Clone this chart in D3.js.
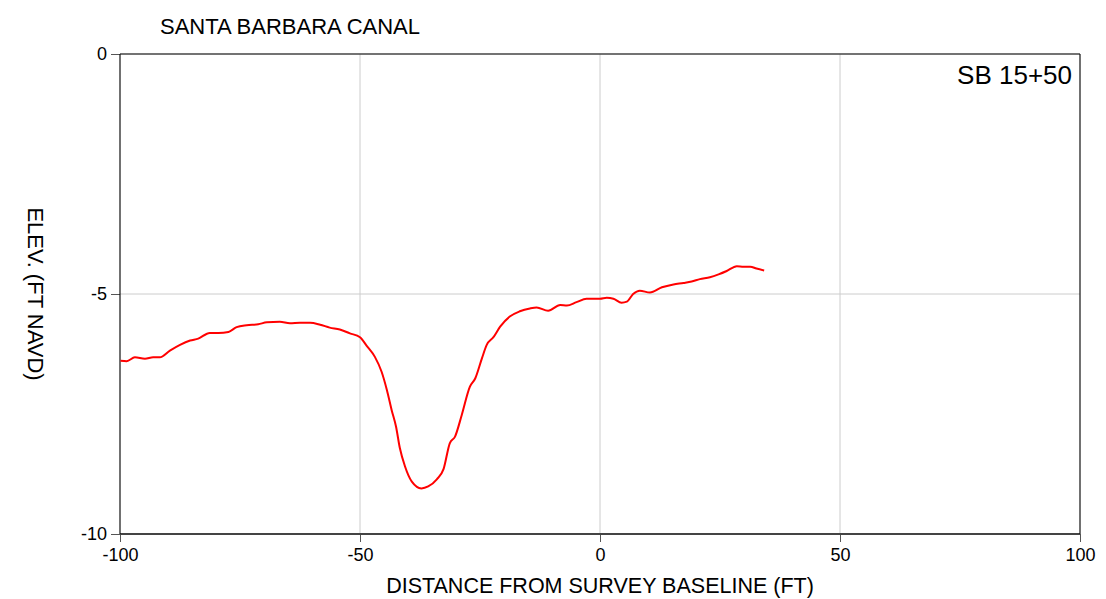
<!DOCTYPE html>
<html>
<head>
<meta charset="utf-8">
<script src="https://cdn.jsdelivr.net/npm/d3@7"></script>
<style>
  body { margin: 0; background: #fff; }
  svg { display: block; font-family: "Liberation Sans", Arial, sans-serif; }
</style>
</head>
<body>
<div id="chart"></div>
<script>
// profile data (distance ft, elevation ft NAVD)
const distance = [-99.9, -98.6, -96.9, -94.8, -93.1, -91.7, -89.6, -87.5, -85.4, -83.7,
  -81.3, -79.5, -77.4, -75.7, -73.6, -71.2, -69.4, -66.7, -64.6, -62.5, -60.4, -58.3,
  -56.3, -54.2, -52.1, -50.0, -48.6, -46.9, -45.5, -44.4, -43.4, -42.5, -41.7, -40.6,
  -39.2, -37.2, -35.8, -34.0, -32.6, -31.3, -30.2, -28.8, -27.1, -26.0, -24.6, -23.6,
  -22.2, -20.8, -18.8, -16.7, -14.6, -13.2, -10.8, -8.3, -6.9, -4.9, -2.8, 0.0, 1.4,
  2.8, 4.5, 5.6, 6.9, 8.3, 10.4, 12.9, 15.3, 17.4, 19.1, 20.8, 22.9, 24.7, 26.4, 28.5,
  29.9, 31.3, 32.6, 34.2]
const elevation = [-6.39, -6.40, -6.32, -6.35, -6.32, -6.32, -6.18, -6.06, -5.97, -5.93,
  -5.81, -5.81, -5.79, -5.69, -5.65, -5.63, -5.59, -5.58, -5.61, -5.60, -5.60, -5.64,
  -5.70, -5.74, -5.82, -5.90, -6.08, -6.31, -6.62, -7.00, -7.42, -7.76, -8.21, -8.60,
  -8.91, -9.05, -9.01, -8.86, -8.65, -8.11, -7.97, -7.52, -6.93, -6.76, -6.34, -6.06,
  -5.90, -5.68, -5.47, -5.36, -5.30, -5.28, -5.35, -5.23, -5.24, -5.17, -5.10, -5.10,
  -5.08, -5.10, -5.18, -5.16, -5.00, -4.93, -4.97, -4.86, -4.80, -4.77, -4.74, -4.69,
  -4.65, -4.59, -4.52, -4.42, -4.43, -4.43, -4.47, -4.51]

const xTicks = [-100, -50, 0, 50, 100]
const yTicks = [0, -5, -10]
const chartTitle = "SANTA BARBARA CANAL"
const stationLabel = "SB 15+50"
const xTitle = "DISTANCE FROM SURVEY BASELINE (FT)"
const yTitle = "ELEV. (FT NAVD)"

const data = distance.map((d, i) => ({x: d, y: elevation[i]}))

// dimensions
const totalWidth = 1106
const totalHeight = 599
const margin = {top: 54, right: 26, bottom: 65, left: 120}
const width = totalWidth - margin.left - margin.right
const height = totalHeight - margin.top - margin.bottom

const svg = d3.select("#chart")
  .append("svg")
  .attr("width", totalWidth)
  .attr("height", totalHeight)

const g = svg.append("g")
  .attr("transform", `translate(${margin.left}, ${margin.top})`)

// scales
const xScale = d3.scaleLinear().domain([-100, 100]).range([0, width])
const yScale = d3.scaleLinear().domain([-10, 0]).range([height, 0])

// grid
g.append("g")
  .selectAll("line")
  .data(xTicks.slice(1, -1))
  .join("line")
  .attr("x1", d => xScale(d)).attr("x2", d => xScale(d))
  .attr("y1", 0).attr("y2", height)
  .attr("stroke", "#cccccc")
  .attr("stroke-width", 1)

g.append("g")
  .selectAll("line")
  .data(yTicks.slice(1, -1))
  .join("line")
  .attr("x1", 0).attr("x2", width)
  .attr("y1", d => yScale(d)).attr("y2", d => yScale(d))
  .attr("stroke", "#cccccc")
  .attr("stroke-width", 1)

// axes (plain hyphen for negatives, like the original)
const xAxis = d3.axisBottom(xScale)
  .tickValues(xTicks)
  .tickFormat(d => String(d))
  .tickSize(8)
  .tickSizeOuter(0)
  .tickPadding(6)

const yAxis = d3.axisLeft(yScale)
  .tickValues(yTicks)
  .tickFormat(d => String(d))
  .tickSize(9)
  .tickSizeOuter(0)
  .tickPadding(4)

const gx = g.append("g")
  .attr("transform", `translate(0, ${height})`)
  .call(xAxis)

const gy = g.append("g").call(yAxis)

for (const ax of [gx, gy]) {
  ax.select(".domain").remove()
  ax.selectAll("line").attr("stroke", "#555")
  ax.selectAll("text")
    .attr("font-size", "18px")
    .attr("fill", "#000")
    .attr("font-family", "Liberation Sans, Arial, sans-serif")
}

// frame
g.append("line").attr("x1", 0).attr("x2", width).attr("y1", 0).attr("y2", 0)
  .attr("stroke", "#444").attr("stroke-width", 1.5)
g.append("line").attr("x1", 0).attr("x2", width).attr("y1", height).attr("y2", height)
  .attr("stroke", "#444").attr("stroke-width", 2)
g.append("line").attr("x1", 0).attr("x2", 0).attr("y1", 0).attr("y2", height)
  .attr("stroke", "#111").attr("stroke-width", 1.2)
g.append("line").attr("x1", width).attr("x2", width).attr("y1", 0).attr("y2", height)
  .attr("stroke", "#111").attr("stroke-width", 1.2)

// profile line
const lineGenerator = d3.line()
  .x(d => xScale(d.x))
  .y(d => yScale(d.y))
  .curve(d3.curveMonotoneX)

g.append("path")
  .datum(data)
  .attr("d", lineGenerator)
  .attr("fill", "none")
  .attr("stroke", "#ff0000")
  .attr("stroke-width", 2)

// texts
svg.append("text")
  .attr("x", 160)
  .attr("y", 34)
  .attr("font-size", "22px")
  .text(chartTitle)

g.append("text")
  .attr("x", width - 8)
  .attr("y", 30)
  .attr("text-anchor", "end")
  .attr("font-size", "26px")
  .text(stationLabel)

svg.append("text")
  .attr("x", margin.left + width / 2)
  .attr("y", 593)
  .attr("text-anchor", "middle")
  .attr("font-size", "21.5px")
  .text(xTitle)

svg.append("text")
  .attr("transform", `translate(28, ${margin.top + height / 2}) rotate(90)`)
  .attr("text-anchor", "middle")
  .attr("font-size", "22px")
  .text(yTitle)
</script>
</body>
</html>
